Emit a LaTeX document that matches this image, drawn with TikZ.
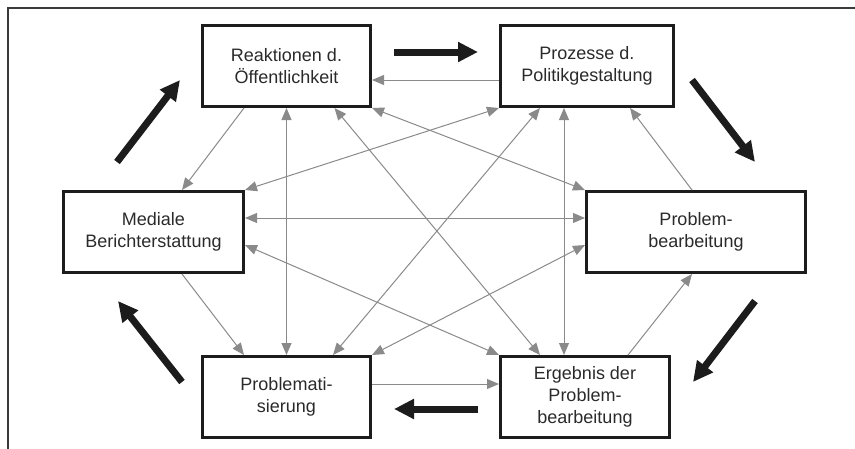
\documentclass[tikz,border=0pt]{standalone}
\usepackage{fontspec}
\setmainfont{Liberation Sans}
\usetikzlibrary{arrows.meta}
\definecolor{boxcol}{HTML}{1C1C1C}
\definecolor{thincol}{HTML}{8A8A8A}
\definecolor{framecol}{HTML}{3A3A3A}
\definecolor{txtcol}{HTML}{2A2A2A}
\tikzset{
  box/.style={draw=boxcol, line width=3pt, inner sep=0pt, align=center,
    text=txtcol, font=\fontsize{18}{22}\selectfont},
  thin/.style={draw=thincol, line width=1pt, -{Triangle[length=12pt,width=10pt]}, color=thincol},
  thinboth/.style={draw=thincol, line width=1pt, {Triangle[length=12pt,width=10pt]}-{Triangle[length=12pt,width=10pt]}, color=thincol},
  bigarrow/.style={draw=boxcol, line width=7pt, -{Triangle[length=20pt,width=19pt]}, color=boxcol},
}
\begin{document}
\begin{tikzpicture}[x=1pt,y=-1pt]
\useasboundingbox (0,0) rectangle (855,448);
\clip (0,0) rectangle (855,448);
\draw[framecol, line width=1.6pt] (860,8) -- (8,8) -- (8,452);

\node[box, minimum width=168pt, minimum height=81pt] (R) at (286.5,66) {Reaktionen d.\\Öffentlichkeit};
\node[box, minimum width=173pt, minimum height=81pt] (P) at (587,66) {Prozesse d.\\Politikgestaltung};
\node[box, minimum width=180pt, minimum height=81pt] (M) at (153.5,232) {Mediale\\Berichterstattung};
\node[box, minimum width=219pt, minimum height=81pt] (B) at (696,232) {Problem-\\bearbeitung};
\node[box, minimum width=168pt, minimum height=81pt] (Z) at (286.5,397) {Problemati-\\sierung};
\node[box, minimum width=169pt, minimum height=81pt] (E) at (585,397) {Ergebnis der\\Problem-\\bearbeitung};

% single-headed thin arrows (cycle)
\draw[thin] ([yshift=-14pt]P.west) -- ([yshift=-14pt]R.east);
\draw[thin] ([xshift=-42.5pt]R.south) -- ([xshift=28.5pt]M.north);
\draw[thin] ([xshift=28.5pt]M.south) -- ([xshift=-42.5pt]Z.north);
\draw[thin] ([yshift=13pt]Z.east) -- ([yshift=13pt]E.west);
\draw[thin] ([xshift=43pt]E.north) -- ([xshift=-4pt]B.south);
\draw[thin] ([xshift=-4pt]B.north) -- ([xshift=43pt]P.south);

% double-headed thin arrows
\draw[thinboth] (R.south) -- (Z.north);
\draw[thinboth] ([xshift=-23pt]P.south) -- ([xshift=-21pt]E.north);
\draw[thinboth] ([yshift=14pt]M.east) -- ([yshift=14pt]B.west);
\draw[thinboth] (R.south east) -- (B.north west);
\draw[thinboth] (M.north east) -- (P.south west);
\draw[thinboth] ([xshift=48pt]R.south) -- ([xshift=-45pt]E.north);
\draw[thinboth] ([xshift=-47pt]P.south) -- ([xshift=46.5pt]Z.north);
\draw[thinboth] ([yshift=-13pt]M.east) -- (E.north west);
\draw[thinboth] (Z.north east) -- ([yshift=-13pt]B.west);

% thick black arrows
\coordinate (a1) at (394,52);  \coordinate (b1) at (478,52);
\coordinate (a2) at (692,80);  \coordinate (b2) at (755,162);
\coordinate (a3) at (755,301); \coordinate (b3) at (693,382);
\coordinate (a4) at (478,409); \coordinate (b4) at (394,409);
\coordinate (a5) at (182,382); \coordinate (b5) at (118,301);
\coordinate (a6) at (117,162); \coordinate (b6) at (180,80);
\draw[bigarrow] (a1) -- (b1);
\draw[bigarrow] (a2) -- (b2);
\draw[bigarrow] (a3) -- (b3);
\draw[bigarrow] (a4) -- (b4);
\draw[bigarrow] (a5) -- (b5);
\draw[bigarrow] (a6) -- (b6);
\end{tikzpicture}
\end{document}
